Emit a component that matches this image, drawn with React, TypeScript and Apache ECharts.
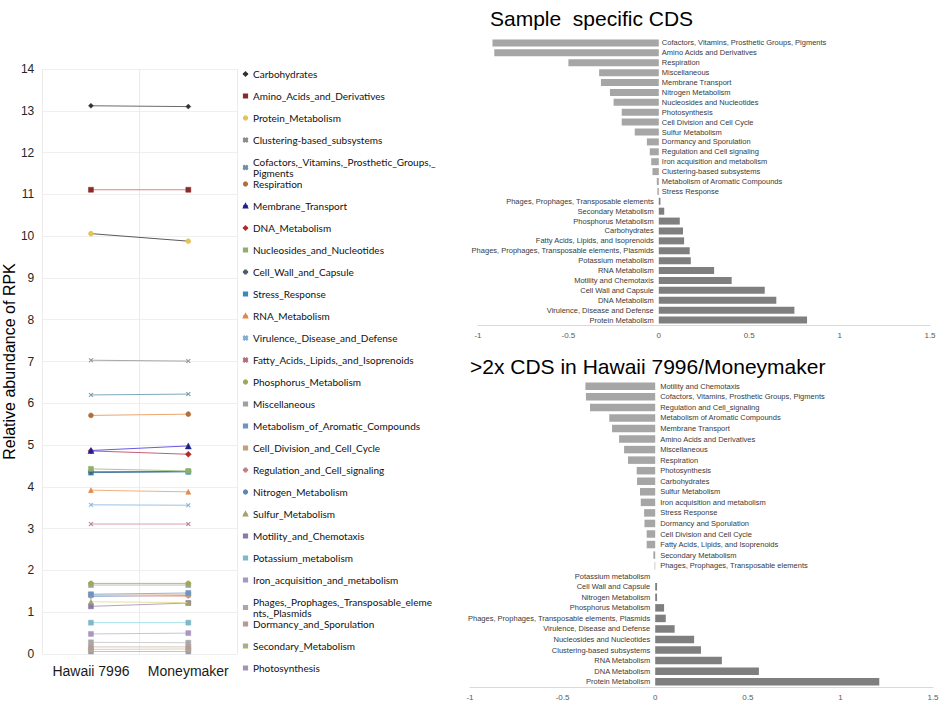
import React, { useEffect, useRef } from "react";
import * as echarts from "echarts";

// ---------- Left line chart data ----------
const lineCategories = ["Hawaii 7996", "Moneymaker"];
const seriesNames = [
  "Carbohydrates",
  "Amino_Acids_and_Derivatives",
  "Protein_Metabolism",
  "Clustering-based_subsystems",
  "Cofactors,_Vitamins,_Prosthetic_Groups,_Pigments",
  "Respiration",
  "Membrane_Transport",
  "DNA_Metabolism",
  "Nucleosides_and_Nucleotides",
  "Cell_Wall_and_Capsule",
  "Stress_Response",
  "RNA_Metabolism",
  "Virulence,_Disease_and_Defense",
  "Fatty_Acids,_Lipids,_and_Isoprenoids",
  "Phosphorus_Metabolism",
  "Miscellaneous",
  "Metabolism_of_Aromatic_Compounds",
  "Cell_Division_and_Cell_Cycle",
  "Regulation_and_Cell_signaling",
  "Nitrogen_Metabolism",
  "Sulfur_Metabolism",
  "Motility_and_Chemotaxis",
  "Potassium_metabolism",
  "Iron_acquisition_and_metabolism",
  "Phages,_Prophages,_Transposable_elements,_Plasmids",
  "Dormancy_and_Sporulation",
  "Secondary_Metabolism",
  "Photosynthesis",
];
const hawaiiVals = [
  13.12, 11.11, 10.06, 7.03, 6.2, 5.71, 4.87, 4.86, 4.43, 4.36, 4.34, 3.92, 3.57, 3.11,
  1.69, 1.65, 1.43, 1.41, 1.4, 1.38, 1.25, 1.14, 0.75, 0.48, 0.28, 0.17, 0.11, 0.06,
];
const moneymakerVals = [
  13.1, 11.11, 9.88, 7.01, 6.22, 5.74, 4.98, 4.78, 4.38, 4.37, 4.36, 3.88, 3.56, 3.11,
  1.69, 1.65, 1.46, 1.42, 1.38, 1.4, 1.23, 1.22, 0.75, 0.5, 0.27, 0.17, 0.12, 0.06,
];
const yTitle = "Relative abundance of RPK";

// ---------- Top bar chart data ----------
const sampleTitle = "Sample  specific CDS";
const sampleNegCats = [
  "Cofactors, Vitamins, Prosthetic Groups, Pigments",
  "Amino Acids and Derivatives",
  "Respiration",
  "Miscellaneous",
  "Membrane Transport",
  "Nitrogen Metabolism",
  "Nucleosides and Nucleotides",
  "Photosynthesis",
  "Cell Division and Cell Cycle",
  "Sulfur Metabolism",
  "Dormancy and Sporulation",
  "Regulation and Cell signaling",
  "Iron acquisition and metabolism",
  "Clustering-based subsystems",
  "Metabolism of Aromatic Compounds",
  "Stress Response",
];
const sampleNegVals = [
  -0.92, -0.91, -0.5, -0.33, -0.32, -0.27, -0.25, -0.205, -0.205, -0.133, -0.066, -0.05,
  -0.042, -0.035, -0.011, -0.008,
];
const samplePosCats = [
  "Phages, Prophages, Transposable elements",
  "Secondary Metabolism",
  "Phosphorus Metabolism",
  "Carbohydrates",
  "Fatty Acids, Lipids, and Isoprenoids",
  "Phages, Prophages, Transposable elements, Plasmids",
  "Potassium metabolism",
  "RNA Metabolism",
  "Motility and Chemotaxis",
  "Cell Wall and Capsule",
  "DNA Metabolism",
  "Virulence, Disease and Defense",
  "Protein Metabolism",
];
const samplePosVals = [0.009, 0.03, 0.116, 0.134, 0.14, 0.171, 0.177, 0.306, 0.403, 0.586, 0.65, 0.75, 0.82];

// ---------- Bottom bar chart data ----------
const ratioTitle = ">2x CDS in Hawaii 7996/Moneymaker";
const ratioNegCats = [
  "Motility and Chemotaxis",
  "Cofactors, Vitamins, Prosthetic Groups, Pigments",
  "Regulation and Cell_signaling",
  "Metabolism of Aromatic Compounds",
  "Membrane Transport",
  "Amino Acids and Derivatives",
  "Miscellaneous",
  "Respiration",
  "Photosynthesis",
  "Carbohydrates",
  "Sulfur Metabolism",
  "Iron acquisition and metabolism",
  "Stress Response",
  "Dormancy and Sporulation",
  "Cell Division and Cell Cycle",
  "Fatty Acids, Lipids, and Isoprenoids",
  "Secondary Metabolism",
  "Phages, Prophages, Transposable elements",
];
const ratioNegVals = [
  -0.377, -0.374, -0.352, -0.248, -0.233, -0.195, -0.168, -0.147, -0.1, -0.098, -0.082, -0.078,
  -0.06, -0.058, -0.046, -0.046, -0.01, -0.003,
];
const ratioPosCats = [
  "Potassium metabolism",
  "Cell Wall and Capsule",
  "Nitrogen Metabolism",
  "Phosphorus Metabolism",
  "Phages, Prophages, Transposable elements, Plasmids",
  "Virulence, Disease and Defense",
  "Nucleosides and Nucleotides",
  "Clustering-based subsystems",
  "RNA Metabolism",
  "DNA Metabolism",
  "Protein Metabolism",
];
const ratioPosVals = [0, 0.01, 0.01, 0.048, 0.057, 0.105, 0.21, 0.247, 0.36, 0.56, 1.21];
const xTicksMin = -1;
const xTicksMax = 1.5;
const xTicksStep = 0.5;

// ---------- Styles ----------
const PLUS = "path://M4,0H6V4H10V6H6V10H4V6H0V4H4Z";
const CROSS = "path://M1,0L5,4L9,0L10,1L6,5L10,9L9,10L5,6L1,10L0,9L4,5L0,1Z";
const DASH = "path://M0,4H10V6H0Z";
const seriesStyles: { line: string; mark: string; symbol: string; size: number }[] = [
  { line: "#6B6B6B", mark: "#333333", symbol: "diamond", size: 5 },
  { line: "#D9868A", mark: "#8B2A2A", symbol: "rect", size: 5 },
  { line: "#5A5A5A", mark: "#E3C35A", symbol: "circle", size: 5 },
  { line: "#A8A8A8", mark: "#8C8C8C", symbol: CROSS, size: 4 },
  { line: "#7FA8BC", mark: "#6C8FA3", symbol: CROSS, size: 4 },
  { line: "#EDA66E", mark: "#B0703E", symbol: "circle", size: 5 },
  { line: "#6A5AE0", mark: "#1F1F8F", symbol: "triangle", size: 6 },
  { line: "#C0607A", mark: "#B22A2A", symbol: "diamond", size: 6 },
  { line: "#A9C88E", mark: "#8FAF6E", symbol: DASH, size: 5 },
  { line: "#5E7484", mark: "#4A5A66", symbol: PLUS, size: 5 },
  { line: "#4F7FB0", mark: "#3A8AB5", symbol: "rect", size: 5 },
  { line: "#F0B080", mark: "#E0884A", symbol: "triangle", size: 5 },
  { line: "#9CC3E6", mark: "#7FAFD8", symbol: CROSS, size: 4 },
  { line: "#D8A0B0", mark: "#B07080", symbol: CROSS, size: 4 },
  { line: "#B8B870", mark: "#9FA855", symbol: "circle", size: 5 },
  { line: "#BDBDBD", mark: "#A0A0A0", symbol: DASH, size: 5 },
  { line: "#8EB4E3", mark: "#6E94C3", symbol: DASH, size: 5 },
  { line: "#E8C8A8", mark: "#C4A07A", symbol: DASH, size: 5 },
  { line: "#F0B8B8", mark: "#C08080", symbol: PLUS, size: 4 },
  { line: "#7FA6D8", mark: "#5F86B8", symbol: "circle", size: 4 },
  { line: "#E8E0A0", mark: "#A0A070", symbol: "triangle", size: 5 },
  { line: "#B3A2C7", mark: "#8A7AA8", symbol: DASH, size: 5 },
  { line: "#A8E0E8", mark: "#80B8C8", symbol: DASH, size: 5 },
  { line: "#D0C0E0", mark: "#A898C0", symbol: DASH, size: 5 },
  { line: "#D0D0D0", mark: "#A8A8A8", symbol: DASH, size: 5 },
  { line: "#E0C0C0", mark: "#B89898", symbol: DASH, size: 5 },
  { line: "#D0D8B0", mark: "#A8B088", symbol: DASH, size: 5 },
  { line: "#C8C0D8", mark: "#A098B0", symbol: DASH, size: 5 },
];

function wrapLegend(name: string): string {
  if (name.startsWith("Cofactors")) return "Cofactors,_Vitamins,_Prosthetic_Groups,_\nPigments";
  if (name.startsWith("Phages")) return "Phages,_Prophages,_Transposable_eleme\nnts,_Plasmids";
  return name;
}

function buildOption() {
  const lineSeries = seriesNames.map((name, i) => {
    const st = seriesStyles[i];
    return {
      name,
      type: "line",
      xAxisIndex: 0,
      yAxisIndex: 0,
      data: [hawaiiVals[i], moneymakerVals[i]],
      symbol: st.symbol,
      symbolSize: st.size,
      showSymbol: true,
      lineStyle: { color: st.line, width: 1 },
      itemStyle: { color: st.mark, borderColor: st.mark, borderWidth: 0.5 },
      z: 30 - i,
    };
  });

  const legends = seriesNames.map((name, i) => ({
    data: [name],
    left: 242,
    top: 68.5 + i * 22,
    orient: "vertical",
    itemWidth: 5,
    itemHeight: 4,
    itemGap: 0,
    padding: 0,
    selectedMode: false,
    formatter: wrapLegend,
    textStyle: {
      fontFamily: "Lato, 'Open Sans', sans-serif",
      fontSize: 10,
      lineHeight: 11,
      color: "#111111",
    },
  }));

  const topCats = [...sampleNegCats, ...samplePosCats];
  const botCats = [...ratioNegCats, ...ratioPosCats];

  const barLabel = (position: string, distance: number) => ({
    show: true,
    position,
    distance,
    formatter: (p: any) => p.name,
    fontSize: 7.5,
    color: "#3a3a3a",
    fontFamily: "Arial, 'Liberation Sans', sans-serif",
  });

  const barSeries = [
    {
      name: "sampleNeg",
      type: "bar",
      xAxisIndex: 1,
      yAxisIndex: 1,
      data: [...sampleNegVals, ...samplePosCats.map(() => null)],
      itemStyle: { color: "#A6A6A6" },
      barWidth: 7,
      barGap: "-100%",
      label: barLabel("right", 3),
    },
    {
      name: "samplePos",
      type: "bar",
      xAxisIndex: 1,
      yAxisIndex: 1,
      data: [...sampleNegCats.map(() => null), ...samplePosVals],
      itemStyle: { color: "#7F7F7F" },
      barWidth: 7,
      barGap: "-100%",
      label: barLabel("left", 5),
    },
    {
      name: "ratioNeg",
      type: "bar",
      xAxisIndex: 2,
      yAxisIndex: 2,
      data: [...ratioNegVals, ...ratioPosCats.map(() => null)],
      itemStyle: { color: "#A6A6A6" },
      barWidth: 7.5,
      barGap: "-100%",
      label: barLabel("right", 5),
    },
    {
      name: "ratioPos",
      type: "bar",
      xAxisIndex: 2,
      yAxisIndex: 2,
      data: [...ratioNegCats.map(() => null), ...ratioPosVals],
      itemStyle: { color: "#7F7F7F" },
      barWidth: 7.5,
      barGap: "-100%",
      label: barLabel("left", 5),
    },
  ];

  const valueAxis = (gridIndex: number) => ({
    gridIndex,
    type: "value",
    min: xTicksMin,
    max: xTicksMax,
    interval: xTicksStep,
    axisLine: { show: true, lineStyle: { color: "#D9D9D9", width: 1 } },
    axisTick: { show: false },
    splitLine: { show: false },
    axisLabel: {
      fontSize: 8,
      color: "#595959",
      margin: 6,
      fontFamily: "Arial, 'Liberation Sans', sans-serif",
    },
  });

  const catAxis = (gridIndex: number, data: string[]) => ({
    gridIndex,
    type: "category",
    inverse: true,
    data,
    axisLine: { show: false },
    axisTick: { show: false },
    axisLabel: { show: false },
    splitLine: { show: false },
  });

  const titleStyle = {
    fontSize: 21,
    fontWeight: "normal",
    color: "#000000",
    fontFamily: "Arial, 'Liberation Sans', sans-serif",
  };

  return {
    animation: false,
    backgroundColor: "#ffffff",
    title: [
      { text: sampleTitle, left: 490, top: 8, padding: 0, textStyle: titleStyle },
      { text: ratioTitle, left: 470, top: 356, padding: 0, textStyle: titleStyle },
    ],
    legend: legends,
    grid: [
      { left: 35, top: 69, width: 202, height: 585 },
      { left: 478, top: 38, width: 452, height: 287 },
      { left: 470, top: 381, width: 463, height: 306 },
    ],
    xAxis: [
      {
        gridIndex: 0,
        type: "category",
        data: lineCategories,
        boundaryGap: true,
        axisLine: { show: false },
        axisTick: { show: false },
        axisLabel: {
          interval: 0,
          fontSize: 14,
          color: "#1a1a1a",
          margin: 10,
          fontFamily: "Arial, 'Liberation Sans', sans-serif",
        },
        splitLine: { show: true, interval: 0, lineStyle: { color: "#EBEBEB", width: 1 } },
      },
      valueAxis(1),
      valueAxis(2),
    ],
    yAxis: [
      {
        gridIndex: 0,
        type: "value",
        min: 0,
        max: 14,
        interval: 1,
        name: yTitle,
        nameLocation: "middle",
        nameGap: 19,
        nameTextStyle: {
          fontSize: 16,
          color: "#000000",
          fontFamily: "Arial, 'Liberation Sans', sans-serif",
        },
        axisLine: { show: false },
        axisTick: { show: false },
        axisLabel: {
          fontSize: 12,
          color: "#262626",
          margin: 8,
          fontFamily: "Arial, 'Liberation Sans', sans-serif",
        },
        splitLine: { show: true, lineStyle: { color: "#EFEFEF", width: 1 } },
      },
      catAxis(1, topCats),
      catAxis(2, botCats),
    ],
    series: [...lineSeries, ...barSeries],
  };
}

export default function App() {
  const ref = useRef<HTMLDivElement>(null);
  useEffect(() => {
    document.body.style.margin = "0";
    if (!ref.current) return;
    const chart = echarts.init(ref.current, null, { renderer: "svg" });
    chart.setOption(buildOption() as any);
    return () => {
      chart.dispose();
    };
  }, []);
  return <div ref={ref} style={{ width: 943, height: 705 }} />;
}
